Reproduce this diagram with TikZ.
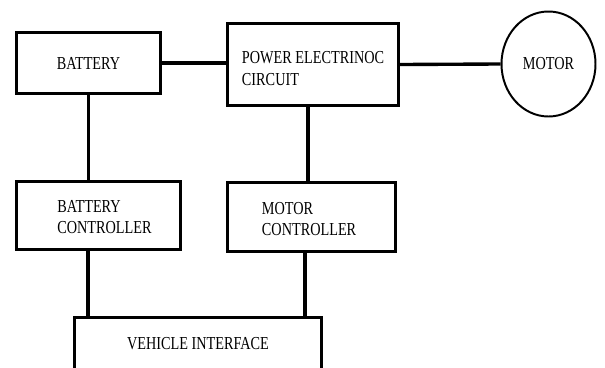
\documentclass[tikz,border=0pt]{standalone}
\usepackage{fontspec}
\setmainfont{Liberation Serif}[FakeStretch=0.78]
\usetikzlibrary{shapes.geometric}

\begin{document}
\begin{tikzpicture}[
  blk/.style={draw, line width=2pt, minimum width=#1, font=\fontsize{13}{15}\selectfont},
  txt/.style={anchor=west, align=left, inner sep=0pt, font=\fontsize{13}{15}\selectfont},
  wire/.style={line width=2.4pt},
]
\useasboundingbox (0,0) rectangle (15.125,-9.175);
\clip (0,0) rectangle (15.125,-9.175);
% ---- top row: battery, power electronics, motor ----
\node[blk=3.6cm, minimum height=1.525cm] (bat) at (2.2125,-1.575) {BATTERY};
\node[blk=4.275cm, minimum height=2.05cm] (pec) at (7.825,-1.6125) {};
\node[txt] (pectext) at ([xshift=0.39cm,yshift=-0.1cm]pec.west) {POWER ELECTRINOC\\CIRCUIT};
\node[draw, ellipse, line width=1.4pt, minimum width=2.35cm, minimum height=2.625cm,
  font=\fontsize{13}{15}\selectfont] (motor) at (13.7125,-1.6) {\raisebox{-0.15cm}{MOTOR}};

% ---- middle row: controllers ----
\node[blk=4.1cm, minimum height=1.7cm] (bc) at (2.4625,-5.3875) {};
\node[txt] (bctext) at ([xshift=1.05cm,yshift=-0.04cm]bc.west) {BATTERY\\CONTROLLER};
\node[blk=4.2cm, minimum height=1.725cm] (mc) at (7.7875,-5.425) {};
\node[txt] (mctext) at ([xshift=0.89cm,yshift=-0.04cm]mc.west) {MOTOR\\CONTROLLER};

% ---- bottom: vehicle interface (cut off at the lower edge) ----
\node[blk=6.175cm, minimum height=1.35cm] (vi) at (4.95,-8.6125) {\raisebox{0.06cm}{VEHICLE INTERFACE}};

% ---- wiring ----
\draw[wire] (bat.east) -- (bat.east -| pec.west);
\draw[wire] (pec.east) -- (motor.west);
\draw[wire] (bat.south) -- (bat.south |- bc.north);
\draw[wire] ([xshift=-0.125cm]pec.south) -- ([xshift=-0.125cm]pec.south |- mc.north);
\draw[wire] ([xshift=-0.2625cm]bc.south) -- ([xshift=-0.2625cm]bc.south |- vi.north);
\draw[wire] ([xshift=-0.1625cm]mc.south) -- ([xshift=-0.1625cm]mc.south |- vi.north);
\end{tikzpicture}
\end{document}
